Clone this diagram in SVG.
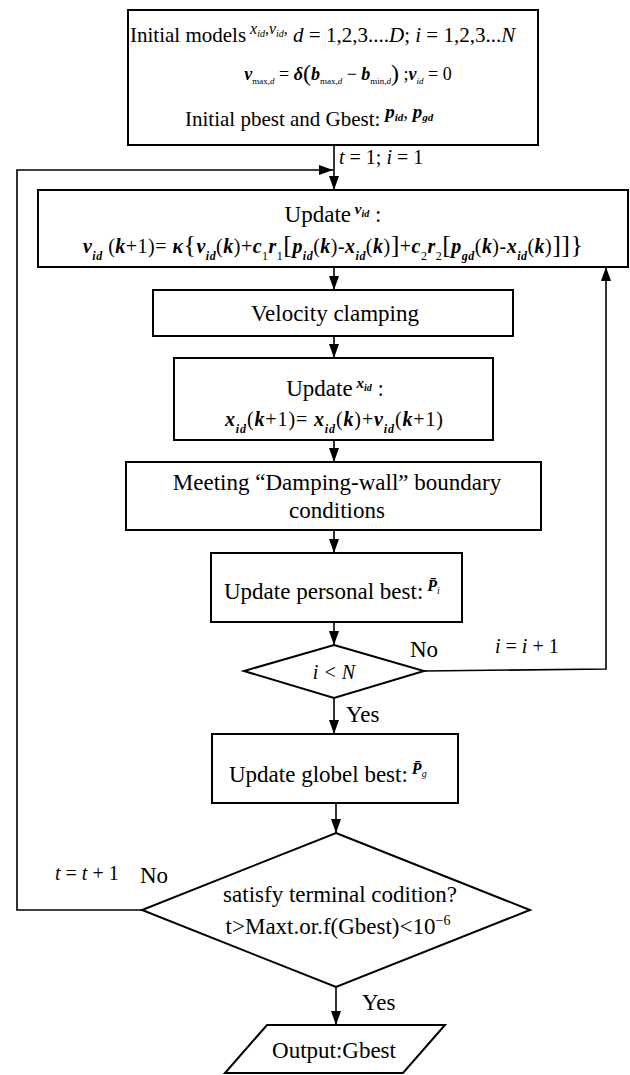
<svg xmlns="http://www.w3.org/2000/svg" width="630" height="1075" viewBox="0 0 630 1075">
<style>
.box{fill:#fff;stroke:#000;stroke-width:2}
.ln{fill:none;stroke:#000;stroke-width:1.6}
.t{font-family:"Liberation Serif","Times New Roman",serif;font-size:23px;fill:#000}
.m{font-family:"Liberation Serif","Times New Roman",serif;font-size:20px;fill:#000}
.bi{font-style:italic;font-weight:bold}
.it{font-style:italic}
.sb{font-size:12px;baseline-shift:sub}
.big{font-size:26px}
</style>
<defs>
<marker id="ah" viewBox="0 0 14 10" refX="14" refY="5" markerWidth="14" markerHeight="10" orient="auto" markerUnits="userSpaceOnUse">
<path d="M0,0 L14,5 L0,10 z" fill="#000"/>
</marker>
</defs>

<g id="init">
<rect class="box" x="128" y="10" width="410" height="135"/>
<text class="t" x="130" y="42" style="font-size:21px">Initial models<tspan class="it" font-size="16" dy="-8"> x</tspan><tspan class="it" font-size="10" dy="3">id</tspan><tspan font-size="16" dy="-3">,</tspan><tspan class="it" font-size="16">v</tspan><tspan class="it" font-size="10" dy="3">id</tspan><tspan font-size="16" dy="-3">,</tspan><tspan dy="8"> </tspan><tspan class="it">d</tspan><tspan> = 1,2,3....</tspan><tspan class="it">D</tspan><tspan>;  </tspan><tspan class="it">i</tspan><tspan> = 1,2,3...</tspan><tspan class="it">N</tspan></text>
<text class="m" x="348" y="80" text-anchor="middle" style="font-size:18px"><tspan class="bi">v</tspan><tspan font-size="9" dy="4">max,</tspan><tspan class="it" font-size="9">d</tspan><tspan dy="-4"> = </tspan><tspan class="bi">δ</tspan><tspan font-size="24" dy="1">(</tspan><tspan class="bi" dy="-1">b</tspan><tspan font-size="9" dy="4">max,</tspan><tspan class="it" font-size="9">d</tspan><tspan dy="-4"> − </tspan><tspan class="bi">b</tspan><tspan font-size="9" dy="4">min,</tspan><tspan class="it" font-size="9">d</tspan><tspan font-size="24" dy="-3">)</tspan><tspan dy="-1"> ;</tspan><tspan class="bi">v</tspan><tspan class="it" font-size="9" dy="4">id</tspan><tspan dy="-4"> = 0</tspan></text>
<text class="t" x="185" y="126" style="font-size:21px">Initial pbest and Gbest:<tspan class="bi" font-size="19" dy="-8"> p</tspan><tspan class="bi" font-size="11" dy="3">id</tspan><tspan font-size="19" dy="-3">,  </tspan><tspan class="bi" font-size="19">p</tspan><tspan class="bi" font-size="11" dy="3">gd</tspan></text>
</g>

<g id="updv">
<rect class="box" x="38" y="190" width="590" height="77"/>
<text class="t" x="333" y="222" text-anchor="middle">Update<tspan class="bi" font-size="15" dy="-8"> v</tspan><tspan class="bi" font-size="10" dy="3">id</tspan><tspan dy="5"> :</tspan></text>
<text class="m" x="333" y="253" text-anchor="middle" textLength="500" lengthAdjust="spacing"><tspan class="bi">v</tspan><tspan class="sb bi">id</tspan><tspan> (</tspan><tspan class="bi">k</tspan><tspan>+1)= </tspan><tspan class="bi">κ</tspan><tspan class="big">{</tspan><tspan class="bi">v</tspan><tspan class="sb bi">id</tspan><tspan>(</tspan><tspan class="bi">k</tspan><tspan>)+</tspan><tspan class="bi">c</tspan><tspan class="sb">1</tspan><tspan class="bi">r</tspan><tspan class="sb">1</tspan><tspan class="big">[</tspan><tspan class="bi">p</tspan><tspan class="sb bi">id</tspan><tspan>(</tspan><tspan class="bi">k</tspan><tspan>)-</tspan><tspan class="bi">x</tspan><tspan class="sb bi">id</tspan><tspan>(</tspan><tspan class="bi">k</tspan><tspan>)</tspan><tspan class="big">]</tspan><tspan>+</tspan><tspan class="bi">c</tspan><tspan class="sb">2</tspan><tspan class="bi">r</tspan><tspan class="sb">2</tspan><tspan class="big">[</tspan><tspan class="bi">p</tspan><tspan class="sb bi">gd</tspan><tspan>(</tspan><tspan class="bi">k</tspan><tspan>)-</tspan><tspan class="bi">x</tspan><tspan class="sb bi">id</tspan><tspan>(</tspan><tspan class="bi">k</tspan><tspan>)</tspan><tspan class="big">]]}</tspan></text>
</g>

<g id="clamp">
<rect class="box" x="153" y="290" width="360" height="46"/>
<text class="t" x="335" y="321" text-anchor="middle">Velocity clamping</text>
</g>

<g id="updx">
<rect class="box" x="174" y="358" width="319" height="82"/>
<text class="t" x="335" y="396" text-anchor="middle">Update<tspan class="bi" font-size="15" dy="-8"> x</tspan><tspan class="bi" font-size="10" dy="3">id</tspan><tspan dy="5"> :</tspan></text>
<text class="m" x="334" y="426" text-anchor="middle" textLength="218" lengthAdjust="spacing"><tspan class="bi">x</tspan><tspan class="sb bi">id</tspan><tspan>(</tspan><tspan class="bi">k</tspan><tspan>+1)=  </tspan><tspan class="bi">x</tspan><tspan class="sb bi">id</tspan><tspan>(</tspan><tspan class="bi">k</tspan><tspan>)+</tspan><tspan class="bi">v</tspan><tspan class="sb bi">id</tspan><tspan>(</tspan><tspan class="bi">k</tspan><tspan>+1)</tspan></text>
</g>

<g id="damp">
<rect class="box" x="126" y="462" width="415" height="68"/>
<text class="t" x="337" y="490" text-anchor="middle">Meeting “Damping-wall” boundary</text>
<text class="t" x="337" y="518" text-anchor="middle">conditions</text>
</g>

<g id="pbest">
<rect class="box" x="211" y="553" width="251" height="69"/>
<text class="t" x="224" y="599">Update personal best:<tspan class="bi" font-size="16" dy="-8"> P̄</tspan><tspan class="it" font-size="10" dy="3">i</tspan></text>
</g>

<g id="dec1">
<polygon class="box" points="334,645 424,671 334,698 244,671"/>
<text class="m it" x="334" y="679" text-anchor="middle">i &lt; N</text>
</g>

<g id="gbest">
<rect class="box" x="212" y="734" width="246" height="69"/>
<text class="t" x="229" y="782">Update globel best:<tspan class="bi" font-size="16" dy="-8"> P̄</tspan><tspan class="it" font-size="10" dy="3">g</tspan></text>
</g>

<g id="dec2">
<polygon class="box" points="336,833 530,910 336,987 142,910"/>
<text class="t" x="340" y="902" text-anchor="middle">satisfy terminal codition?</text>
<text class="t" x="338" y="934" text-anchor="middle">t&gt;Maxt.or.f(Gbest)&lt;10<tspan font-size="14" dy="-9">−6</tspan></text>
</g>

<g id="out">
<polygon class="box" points="267,1025 445,1025 403,1073 225,1073"/>
<text class="t" x="334" y="1058" text-anchor="middle">Output:Gbest</text>
</g>

<g id="connectors">
<line class="ln" x1="334" y1="145" x2="334" y2="190" marker-end="url(#ah)"/>
<polyline class="ln" points="142,910 17,910 17,170 333,170" marker-end="url(#ah)"/>
<line class="ln" x1="334" y1="267" x2="334" y2="290" marker-end="url(#ah)"/>
<line class="ln" x1="334" y1="336" x2="334" y2="358" marker-end="url(#ah)"/>
<line class="ln" x1="334" y1="440" x2="334" y2="462" marker-end="url(#ah)"/>
<line class="ln" x1="334" y1="530" x2="334" y2="553" marker-end="url(#ah)"/>
<line class="ln" x1="334" y1="622" x2="334" y2="645" marker-end="url(#ah)"/>
<polyline class="ln" points="424,671 606,669 606,267" marker-end="url(#ah)"/>
<line class="ln" x1="334" y1="698" x2="334" y2="734" marker-end="url(#ah)"/>
<line class="ln" x1="336" y1="803" x2="336" y2="833" marker-end="url(#ah)"/>
<line class="ln" x1="336" y1="987" x2="336" y2="1025" marker-end="url(#ah)"/>
<text class="m" x="339" y="164"><tspan class="it">t</tspan> = 1;  <tspan class="it">i</tspan> = 1</text>
<text class="t" x="410" y="657">No</text>
<text class="m" x="495" y="653"><tspan class="it">i</tspan> = <tspan class="it">i</tspan> + 1</text>
<text class="t" x="346" y="722">Yes</text>
<text class="m" x="55" y="880"><tspan class="it">t</tspan> = <tspan class="it">t</tspan> + 1</text>
<text class="t" x="140" y="883">No</text>
<text class="t" x="362" y="1010">Yes</text>
</g>
</svg>
